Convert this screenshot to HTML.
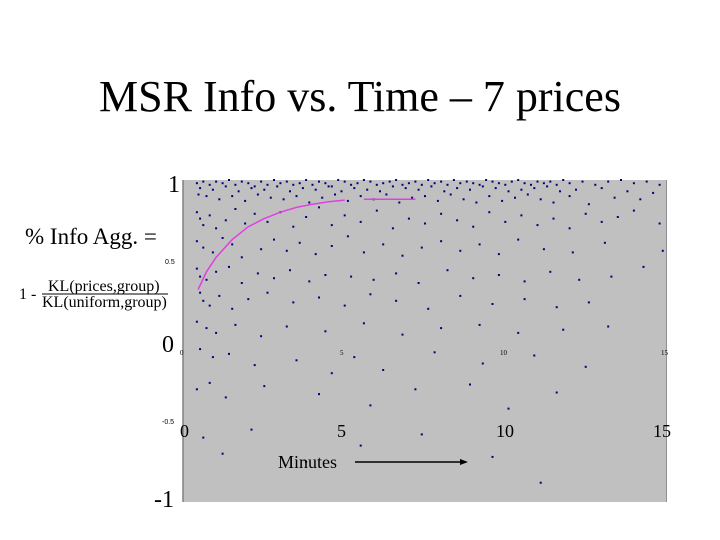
<!DOCTYPE html>
<html><head><meta charset="utf-8"><style>
body{margin:0;background:#fff;}
svg{display:block;font-family:"Liberation Serif",serif;}
</style></head><body>
<svg id="chart" width="720" height="540" viewBox="0 0 720 540" xmlns="http://www.w3.org/2000/svg">
<text x="360" y="111" text-anchor="middle" font-size="44">MSR Info vs. Time – 7 prices</text>
<rect x="183" y="180" width="484" height="322" fill="#c0c0c0"/>
<line x1="183" y1="180" x2="183" y2="502" stroke="#808080" stroke-width="1.5"/>
<line x1="666.5" y1="180" x2="666.5" y2="502" stroke="#909090" stroke-width="1"/>
<g id="dots"></g>
<g id="curve"></g>
<text x="168" y="192" font-size="24">1</text>
<text x="162" y="352" font-size="24">0</text>
<text x="154" y="507" font-size="24">-1</text>
<text x="165" y="264" font-size="7" font-family="Liberation Sans, sans-serif">0.5</text>
<text x="162" y="424" font-size="7" font-family="Liberation Sans, sans-serif">-0.5</text>
<text x="180" y="355" font-size="7">0</text>
<text x="340" y="355" font-size="7">5</text>
<text x="500" y="355" font-size="7">10</text>
<text x="661" y="355" font-size="7">15</text>
<text x="180" y="437" font-size="18">0</text>
<text x="337" y="437" font-size="18">5</text>
<text x="496" y="437" font-size="18">10</text>
<text x="653" y="437" font-size="18">15</text>
<text x="278" y="468" font-size="18">Minutes</text>
<line x1="355" y1="462" x2="462" y2="462" stroke="#000" stroke-width="1.5"/>
<polygon points="468,462 460,459 460,465" fill="#000"/>
<text x="25" y="244" font-size="23">% Info Agg. =</text>
<text x="19" y="299" font-size="16">1 -</text>
<text x="48" y="291" font-size="16">KL(prices,group)</text>
<line x1="42" y1="294" x2="168" y2="294" stroke="#000" stroke-width="1"/>
<text x="42" y="307" font-size="16">KL(uniform,group)</text>
</svg>
<script>
const times = [0.4,0.6,0.8,1.0,1.2,1.4,1.6,1.8,2.0,2.2,2.4,2.6,2.8,3.0,3.2,3.4,3.6,3.8,4.0,4.2,4.4,4.6,4.8,5.0,5.2,5.4,5.6,5.8,6.0,6.2,6.4,6.6,6.8,7.0,7.2,7.4,7.6,7.8,8.0,8.2,8.4,8.6,8.8,9.0,9.2,9.4,9.6,9.8,10.0,10.2,10.4,10.6,10.8,11.0,11.2,11.4,11.6,11.8,12.0,12.4,12.8,13.2,13.6,14.0,14.4,14.8,
0.5,0.9,1.3,1.7,2.1,2.5,2.9,3.3,3.7,4.1,4.5,4.9,5.3,5.7,6.1,6.5,6.9,7.3,7.7,8.1,8.5,8.9,9.3,9.7,10.1,10.5,10.9,11.3,11.7,12.2,13.0,13.8,
0.45,0.7,1.1,1.5,1.9,2.3,2.7,3.1,3.5,3.9,4.3,4.7,5.1,5.5,5.9,6.3,6.7,7.1,7.5,7.9,8.3,8.7,9.1,9.5,9.9,10.3,10.7,11.1,11.5,12.0,12.6,13.4,14.2,14.6,
0.4,0.5,0.6,0.8,1.0,1.3,1.6,1.9,2.2,2.6,3.0,3.4,3.8,4.2,4.6,5.0,5.5,6.0,6.5,7.0,7.5,8.0,8.5,9.0,9.5,10.0,10.5,11.0,11.5,12.0,12.5,13.0,13.5,14.0,14.8,
0.4,0.6,0.9,1.2,1.5,1.8,2.4,2.8,3.2,3.6,4.1,4.6,5.1,5.6,6.2,6.8,7.4,8.0,8.6,9.2,9.8,10.4,11.2,12.1,13.1,14.9,
0.4,0.5,0.7,1.0,1.4,1.8,2.3,2.8,3.3,3.9,4.4,5.2,5.9,6.6,7.3,8.2,9.0,9.8,10.6,11.4,12.3,13.3,14.3,
0.5,0.6,0.8,1.1,1.5,2.0,2.6,3.4,4.2,5.0,5.8,6.6,7.6,8.6,9.6,10.6,11.6,12.6,
0.4,0.7,1.0,1.6,2.4,3.2,4.4,5.6,6.8,8.0,9.2,10.4,11.8,13.2,
0.5,0.9,1.4,2.2,3.5,4.6,5.3,6.2,7.8,9.3,10.9,12.5,
0.4,0.8,1.3,2.5,4.2,5.8,7.2,8.9,10.1,11.6,
0.6,1.2,2.1,3.8,5.5,7.4,9.6,11.1];
const values = [0.98,0.99,0.97,0.99,0.98,1.0,0.97,0.99,0.98,0.96,0.99,0.97,1.0,0.98,0.99,0.97,0.98,1.0,0.97,0.99,0.98,0.96,1.0,0.99,0.97,0.98,1.0,0.99,0.97,0.98,0.99,1.0,0.97,0.98,0.99,0.97,1.0,0.98,0.99,0.97,1.0,0.98,0.99,0.98,0.97,1.0,0.99,0.98,0.97,0.99,1.0,0.98,0.97,0.99,0.98,0.99,0.97,1.0,0.98,0.99,0.97,0.99,1.0,0.98,0.99,0.97,
0.95,0.94,0.96,0.93,0.95,0.94,0.96,0.93,0.95,0.94,0.96,0.93,0.95,0.94,0.93,0.96,0.95,0.94,0.96,0.93,0.95,0.94,0.96,0.95,0.93,0.94,0.95,0.96,0.93,0.94,0.95,0.93,
0.91,0.9,0.88,0.9,0.87,0.91,0.89,0.88,0.9,0.86,0.89,0.91,0.87,0.9,0.88,0.91,0.86,0.89,0.9,0.87,0.91,0.88,0.86,0.9,0.87,0.89,0.91,0.88,0.86,0.9,0.85,0.89,0.88,0.92,
0.8,0.76,0.72,0.78,0.7,0.75,0.82,0.73,0.79,0.74,0.8,0.71,0.77,0.83,0.72,0.78,0.74,0.81,0.7,0.76,0.73,0.79,0.75,0.71,0.8,0.74,0.78,0.72,0.76,0.7,0.79,0.74,0.77,0.81,0.73,
0.62,0.58,0.55,0.64,0.6,0.52,0.57,0.63,0.56,0.61,0.54,0.59,0.65,0.55,0.6,0.53,0.58,0.62,0.56,0.6,0.54,0.63,0.57,0.55,0.61,0.56,
0.45,0.4,0.38,0.43,0.46,0.36,0.42,0.39,0.44,0.37,0.41,0.4,0.38,0.42,0.36,0.44,0.39,0.41,0.37,0.43,0.38,0.4,0.46,
0.3,0.25,0.22,0.28,0.2,0.26,0.3,0.24,0.27,0.22,0.29,0.25,0.2,0.28,0.23,0.26,0.21,0.24,
0.12,0.08,0.05,0.1,0.03,0.09,0.06,0.11,0.04,0.08,0.1,0.05,0.07,0.09,
-0.05,-0.1,-0.08,-0.15,-0.12,-0.2,-0.1,-0.18,-0.07,-0.14,-0.09,-0.16,
-0.3,-0.26,-0.35,-0.28,-0.33,-0.4,-0.3,-0.27,-0.42,-0.32,
-0.6,-0.7,-0.55,-0.75,-0.65,-0.58,-0.72,-0.88];
const curveTimes = [0.44,0.7,1.0,1.5,2.0,2.5,3.0,3.5,4.0,4.5,5.0];
const curveValues = [0.32,0.43,0.52,0.63,0.71,0.76,0.8,0.83,0.85,0.865,0.875];
const flatTimes = [5.6,7.2];
const flatValues = [0.88,0.88];

const NS='http://www.w3.org/2000/svg';
const xScale = t => 184 + t*(666-184)/15;
const yScale = v => 341 - v*161;
const dots=document.getElementById('dots');
for(let i=0;i<times.length;i++){
  const r=document.createElementNS(NS,'rect');
  r.setAttribute('x',(xScale(times[i])-1).toFixed(1));
  r.setAttribute('y',(yScale(values[i])-1).toFixed(1));
  r.setAttribute('width',2);r.setAttribute('height',2);
  r.setAttribute('fill','#000080');
  
  
  dots.appendChild(r);
}
const curve=document.getElementById('curve');
function line(ts,vs,name){
  const p=document.createElementNS(NS,'polyline');
  p.setAttribute('points',ts.map((t,i)=>xScale(t).toFixed(1)+','+yScale(vs[i]).toFixed(1)).join(' '));
  p.setAttribute('fill','none');p.setAttribute('stroke','#e040e0');p.setAttribute('stroke-width','1.5');
  
  
  curve.appendChild(p);
}
line(curveTimes,curveValues,'info-curve-rise');
line(flatTimes,flatValues,'info-curve-flat');
</script>
</body></html>
